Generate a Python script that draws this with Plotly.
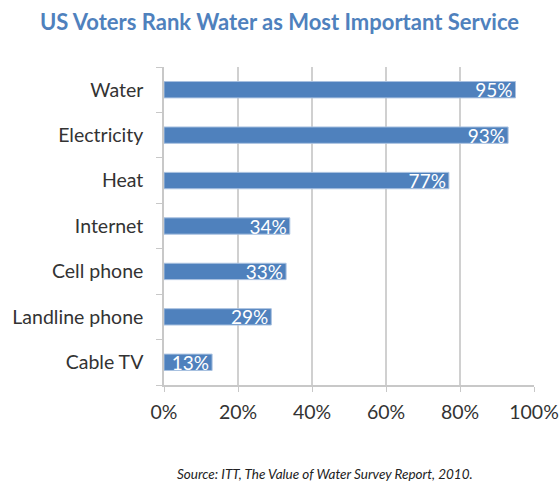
import plotly.graph_objects as go

categories = ["Water", "Electricity", "Heat", "Internet", "Cell phone", "Landline phone", "Cable TV"]
values = [95, 93, 77, 34, 33, 29, 13]
tick_vals = [0, 20, 40, 60, 80, 100]
tick_text = ["0%", "20%", "40%", "60%", "80%", "100%"]

font_family = "Lato, Open Sans, sans-serif"

fig = go.Figure(go.Bar(
    x=values,
    y=categories,
    orientation="h",
    marker=dict(color="#4F81BD", line=dict(color="#A9C1E0", width=1)),
    width=0.36,
    text=[f"{v}%" for v in values],
    textposition="inside",
    insidetextanchor="end",
    textfont=dict(color="white", size=19, family=font_family),
    cliponaxis=False,
    hoverinfo="skip",
))

fig.update_layout(
    width=559, height=483,
    margin=dict(l=164, r=25, t=67, b=98),
    paper_bgcolor="white", plot_bgcolor="white",
    showlegend=False,
    uniformtext=dict(minsize=19, mode="show"),
    title=dict(text="<b>US Voters Rank Water as Most Important Service</b>",
               x=0.5, xanchor="center", y=0.954, yanchor="middle",
               font=dict(size=22, color="#4F81BD", family=font_family)),
    xaxis=dict(range=[0, 100], tickvals=tick_vals, ticktext=tick_text,
               showgrid=True, gridcolor="#D0D0D0", gridwidth=1.5,
               showline=True, linecolor="#C8C8C8", linewidth=1.5,
               ticks="outside", ticklen=5, tickcolor="#C8C8C8",
               ticklabelstandoff=4,
               tickfont=dict(size=19.5, color="#333333", family=font_family),
               zeroline=False, fixedrange=True, automargin=False),
    yaxis=dict(categoryorder="array", categoryarray=categories[::-1],
               showline=True, linecolor="#C8C8C8", linewidth=1.5,
               ticks="outside", ticklen=6, tickcolor="#C8C8C8",
               tickson="boundaries", ticklabelstandoff=15,
               tickfont=dict(size=19.5, color="#333333", family=font_family),
               showgrid=False, fixedrange=True, automargin=False),
    annotations=[dict(text="<i>Source: ITT, The Value of Water Survey Report, 2010.</i>",
                      xref="paper", yref="paper", x=0.434, y=-0.281,
                      xanchor="center", yanchor="middle", showarrow=False,
                      font=dict(size=13.5, color="#222222", family=font_family))],
)

fig.write_html(
    "out.html",
    config={"displayModeBar": False},
    post_script="document.body.style.margin='0';document.body.style.overflow='hidden';",
)
